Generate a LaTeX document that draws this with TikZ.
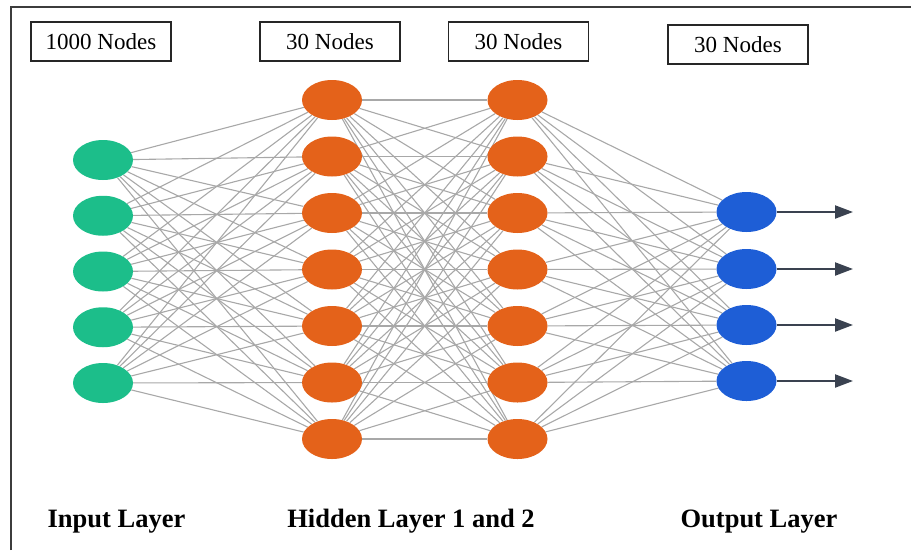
\documentclass[tikz,border=0pt]{standalone}
\usepackage{fontspec}
\setmainfont{Liberation Serif}
\usetikzlibrary{shapes.geometric,arrows.meta,backgrounds}

\definecolor{inputgreen}{RGB}{28,190,138}
\definecolor{hiddenorange}{RGB}{228,98,26}
\definecolor{outputblue}{RGB}{30,94,214}
\definecolor{wiregray}{RGB}{168,168,168}
\definecolor{arrowslate}{RGB}{58,66,80}
\definecolor{framegray}{RGB}{60,60,60}

\tikzset{
  x=1pt, y=-1pt,
  neuron/.style={ellipse, minimum width=60pt, minimum height=40pt, inner sep=0pt},
  innode/.style={neuron, fill=inputgreen},
  hidnode/.style={neuron, fill=hiddenorange},
  outnode/.style={neuron, fill=outputblue},
  wire/.style={draw=wiregray, line width=1.1pt},
  countbox/.style={draw=black!85, line width=1.4pt, minimum width=140pt, minimum height=39pt,
                   inner sep=0pt, font=\fontsize{23}{26}\selectfont},
  layerlabel/.style={font=\fontsize{26.5}{30}\selectfont\bfseries, anchor=base},
  outarrow/.style={draw=arrowslate, line width=2.2pt, -{Triangle[length=18pt,width=13pt]}},
}

\begin{document}
\begin{tikzpicture}
\useasboundingbox (0,0) rectangle (911,550);

% frame lines along top and left edges
\draw[framegray, line width=2pt] (11,550) -- (11,7) -- (911,7);

% node-count boxes
\node[countbox] (c1) at (101,41.5) {1000 Nodes};
\node[countbox] (c2) at (330,41.5) {30 Nodes};
\node[countbox] (c3) at (518.5,41.5) {30 Nodes};
\node[countbox] (c4) at (738,44.5) {30 Nodes};

% input layer
\foreach \i in {1,...,5}
  \node[innode] (i\i) at (103,{160+55.75*(\i-1)}) {};
% hidden layers
\foreach \i in {1,...,7} {
  \node[hidnode] (a\i) at (332,{100+56.5*(\i-1)}) {};
  \node[hidnode] (b\i) at (517.5,{100+56.5*(\i-1)}) {};
}
% output layer
\node[outnode] (o1) at (746.5,212) {};
\node[outnode] (o2) at (746.5,269) {};
\node[outnode] (o3) at (746.5,325) {};
\node[outnode] (o4) at (746.5,381) {};

% fully connected wiring, kept behind the neurons
\begin{scope}[on background layer]
  \foreach \i in {1,...,5}
    \foreach \j in {1,...,7}
      \draw[wire] (i\i) -- (a\j);
  \foreach \i in {1,...,7}
    \foreach \j in {1,...,7}
      \draw[wire] (a\i) -- (b\j);
  \foreach \i in {1,...,7}
    \foreach \j in {1,...,4}
      \draw[wire] (b\i) -- (o\j);
\end{scope}

% output arrows
\foreach \j in {1,...,4} {
  \coordinate (t\j) at ([xshift=106.5pt]o\j.center);
  \draw[outarrow] (o\j.east) -- (t\j);
}

% layer captions
\node[layerlabel] (l1) at (116.5,527) {Input Layer};
\node[layerlabel] (l2) at (411,527) {Hidden Layer 1 and 2};
\node[layerlabel] (l3) at (759,527) {Output Layer};
\end{tikzpicture}
\end{document}
